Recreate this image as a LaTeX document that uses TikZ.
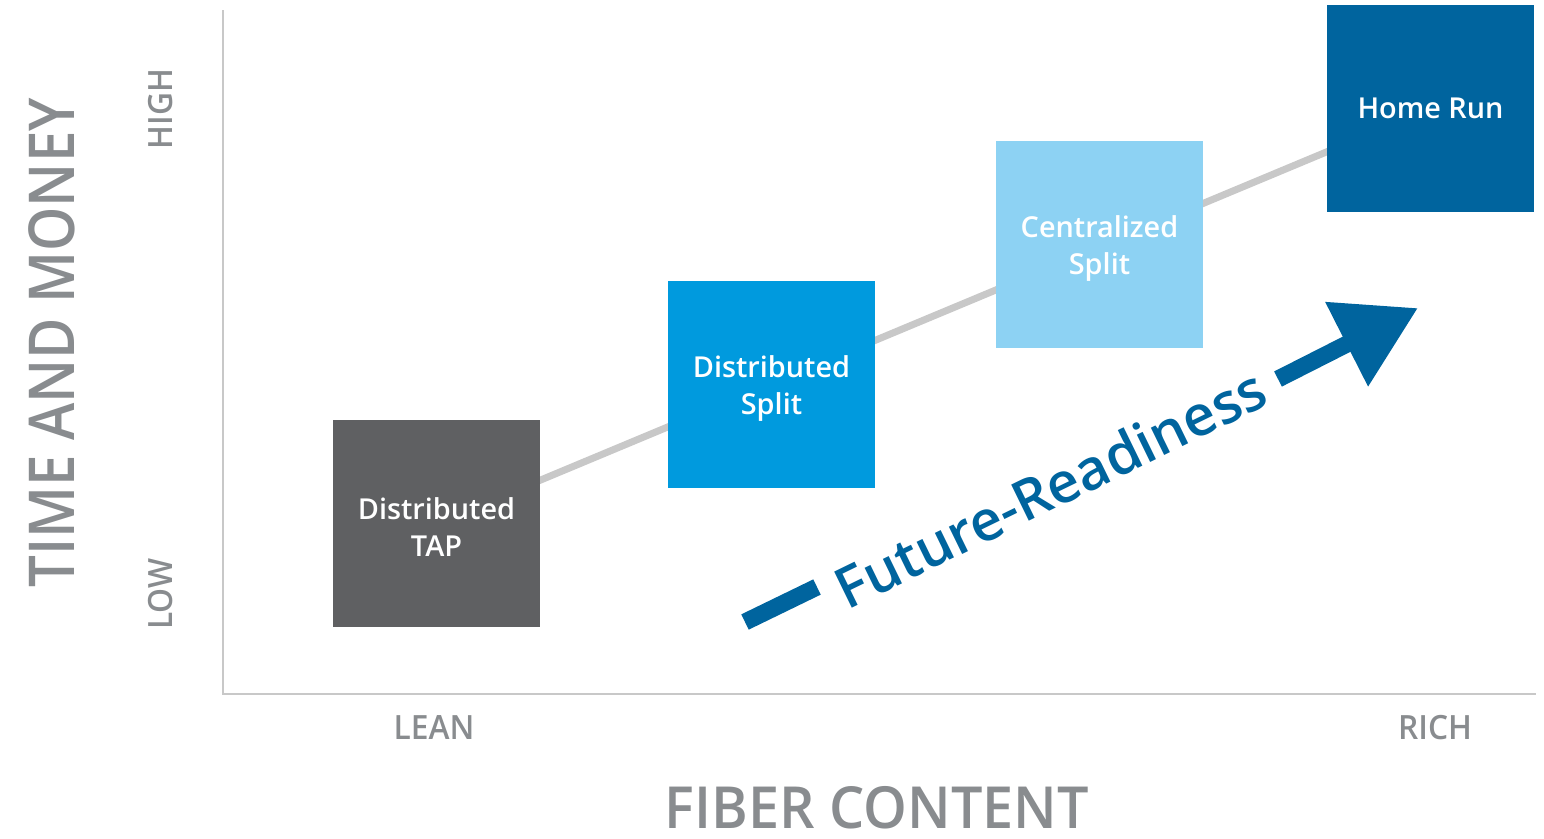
\documentclass[tikz,border=0pt]{standalone}
\usepackage{fontspec}
\setmainfont{Open Sans}
\newfontfamily\semi{Open Sans Semibold}
\usetikzlibrary{arrows.meta,backgrounds}
\definecolor{tapgray}{HTML}{5F6062}
\definecolor{splitblue}{HTML}{009ADE}
\definecolor{lightblue}{HTML}{8DD2F3}
\definecolor{runblue}{HTML}{00649E}
\definecolor{axisgray}{HTML}{C8C8C8}
\definecolor{labelgray}{HTML}{898C8F}
\begin{document}
\begin{tikzpicture}[x=0.01cm,y=-0.01cm,
	box/.style={minimum width=2.07cm,minimum height=2.07cm,inner sep=0pt,text=white,align=center,font=\semi\fontsize{8.2}{10.6}\selectfont},
	ticklabel/.style={text=labelgray,font=\semi\fontsize{9.5}{11}\selectfont},
	title/.style={text=labelgray,font=\semi\fontsize{18}{20}\selectfont}]
	\useasboundingbox (0,0) rectangle (1544,838);
	
	% axes
	\coordinate (top) at (223,10);
	\coordinate (origin) at (223,694);
	\coordinate (right) at (1536,694);
	\draw[axisgray,line width=0.02cm] (top) -- (origin) -- (right);
	
	\node[title,rotate=90] (ylabel) at (52,343) {\scalebox{0.89}[1]{TIME AND MONEY}};
	\node[ticklabel,rotate=90] (high) at (161,109) {\scalebox{0.95}[1]{HIGH}};
	\node[ticklabel,rotate=90] (low) at (161,594) {\scalebox{0.95}[1]{LOW}};
	\node[ticklabel] (lean) at (434,728) {\scalebox{0.95}[1]{LEAN}};
	\node[ticklabel] (rich) at (1435,728) {\scalebox{0.95}[1]{RICH}};
	\node[title,font=\semi\fontsize{16.5}{20}\selectfont] (xlabel) at (877,808) {\scalebox{0.96}[1]{FIBER CONTENT}};
	
	% architectures
	\node[box,fill=tapgray] (tap) at (436.5,523.5) {\\[-0.5ex]Distributed\\TAP};
	\node[box,fill=splitblue] (dsplit) at (771.5,384.5) {\\[-0.5ex]Distributed\\Split};
	\node[box,fill=lightblue] (csplit) at (1099.5,244.5) {\\[-0.5ex]Centralized\\Split};
	\node[box,fill=runblue] (home) at (1430.5,108.5) {Home Run};
	
	\begin{scope}[on background layer]
		\draw[axisgray,line width=0.07cm] (tap.center) -- (home.center);
	\end{scope}
	
	% future readiness arrow
	\coordinate (fr start) at (745,622);
	\coordinate (fr dash) at (817,587);
	\coordinate (fr shaft) at (1278,379);
	\coordinate (fr tip) at (1418,308);
	\node[text=runblue,rotate=26,font=\semi\fontsize{16}{20}\selectfont] (fr) at (1050,488) {Future-Readiness};
	\draw[runblue,line width=0.17cm] (fr start) -- (fr dash);
	\draw[runblue,line width=0.17cm,-{Triangle[length=0.8cm,width=0.9cm]}] (fr shaft) -- (fr tip);
\end{tikzpicture}
\end{document}
